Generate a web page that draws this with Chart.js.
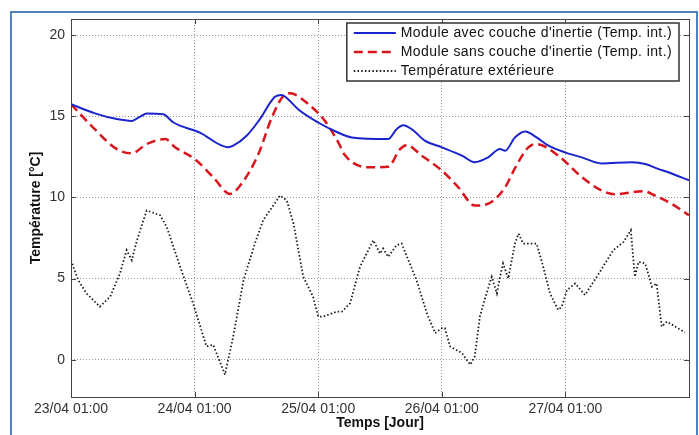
<!DOCTYPE html>
<html>
<head>
<meta charset="utf-8">
<script src="https://cdn.jsdelivr.net/npm/chart.js@4"></script>
<style>
  body { margin: 0; background: #fff; }
</style>
</head>
<body>
<canvas id="tempChart" width="699" height="435"></canvas>
<script>
// tick labels for the time axis (one per day, hours since 23/04 01:00)
const dayLabels = ["23/04 01:00", "24/04 01:00", "25/04 01:00", "26/04 01:00", "27/04 01:00"];
const tempTicks = [0, 5, 10, 15, 20];

// Module avec couche d'inertie
const withHours = [0, 4.5, 8.9, 11.8, 13.5, 14.7, 17.9, 19.9, 25, 30.5, 31.5, 34.1, 36.5, 39.6, 40.9, 42, 44.1, 48, 51.5, 54.5, 61.6, 63.2, 64.5, 66.2, 68.7, 72, 75.9, 78.4, 81, 83.3, 84.3, 86.2, 88.2, 90.4, 92.7, 95.9, 99.2, 103, 108.9, 111.5, 114, 116, 120];
const withTemps = [15.75, 15.2, 14.83, 14.72, 15.0, 15.17, 15.13, 14.62, 14.0, 13.1, 13.19, 13.8, 14.75, 16.2, 16.32, 16.1, 15.44, 14.62, 14.05, 13.7, 13.6, 14.2, 14.45, 14.2, 13.5, 13.09, 12.58, 12.17, 12.47, 12.98, 12.88, 13.7, 14.07, 13.7, 13.19, 12.78, 12.47, 12.1, 12.17, 12.06, 11.76, 11.55, 11.05];

// Module sans couche d'inertie
const withoutHours = [0, 4.3, 8.9, 11.8, 14.7, 18.3, 20.2, 24.1, 27.6, 30.9, 33.1, 36.4, 39, 41.6, 42.5, 46.1, 49.3, 51.9, 53.2, 57.7, 61.6, 63.9, 65.2, 68.1, 72, 75.2, 78.4, 81, 84.3, 86.2, 88.8, 90.4, 94.6, 99.2, 103, 105.6, 111.1, 113.4, 116.6, 120];
const withoutTemps = [15.75, 14.31, 12.98, 12.72, 13.29, 13.6, 13.1, 12.35, 11.25, 10.22, 10.84, 12.68, 14.93, 16.36, 16.42, 15.75, 14.72, 13.4, 12.6, 11.86, 11.9, 12.98, 13.22, 12.58, 11.66, 10.63, 9.5, 9.61, 10.63, 11.8, 13.09, 13.29, 12.58, 11.25, 10.43, 10.2, 10.39, 10.12, 9.61, 8.9];

// Temperature exterieure
const outHours = [0, 1.4, 3, 5.6, 7.6, 9.5, 10.8, 11.8, 12.8, 14.7, 17.3, 18.6, 21.2, 23.7, 26.3, 27.6, 29.9, 31.5, 33.5, 35.7, 37.3, 40.6, 41.9, 43.2, 45.1, 47, 48, 49, 51.6, 52.6, 54.2, 56.1, 58.7, 60, 60.6, 61.6, 63.2, 64.2, 67.1, 69.1, 70.7, 72, 72.6, 73.6, 75.9, 77.5, 78.4, 79.4, 80.4, 81.7, 82.7, 83.3, 83.9, 84.9, 86.2, 86.9, 87.8, 90.4, 91.7, 93, 94.6, 95.3, 96.3, 97.9, 99.8, 102.1, 105.3, 107.3, 108.7, 109.5, 110.2, 111.5, 112.8, 113.7, 114.7, 115.7, 119.2];
const outTemps = [6.13, 4.9, 4.09, 3.27, 3.88, 5.32, 6.75, 6.13, 7.36, 9.2, 8.9, 8.18, 5.72, 3.48, 0.82, 0.92, -0.92, 1.43, 4.9, 7.16, 8.59, 10.12, 9.82, 8.39, 5.11, 3.88, 2.66, 2.66, 2.96, 2.96, 3.48, 5.72, 7.36, 6.54, 6.85, 6.34, 7.06, 7.16, 4.9, 2.86, 1.64, 1.94, 1.94, 0.82, 0.41, -0.31, 0.2, 2.66, 3.78, 5.11, 4.09, 5.11, 5.93, 5.01, 7.16, 7.77, 7.16, 7.16, 5.72, 4.09, 3.07, 3.27, 4.29, 4.7, 3.99, 5.11, 6.75, 7.26, 7.98, 5.11, 6.03, 5.93, 4.5, 4.7, 2.04, 2.35, 1.68];

function toPoints(hours, temps) {
  return hours.map((h, i) => ({ x: h, y: temps[i] }));
}

// white page + blue outer frame
const framePlugin = {
  id: "frame",
  beforeDraw(chart) {
    const ctx = chart.ctx;
    ctx.save();
    ctx.fillStyle = "#fff";
    ctx.fillRect(0, 0, chart.width, chart.height);
    ctx.strokeStyle = "#4f81bd";
    ctx.lineWidth = 2;
    ctx.strokeRect(11, 12, 686, 440);
    ctx.restore();
  },
  afterDatasetsDraw(chart) {
    const ctx = chart.ctx;
    const a = chart.chartArea;
    const xs = chart.scales.x, ys = chart.scales.y;
    ctx.save();
    ctx.strokeStyle = "#444";
    ctx.lineWidth = 1;
    ctx.strokeRect(a.left + 0.5, a.top + 0.5, a.right - a.left, a.bottom - a.top);
    // matlab style inward ticks
    ctx.beginPath();
    xs.ticks.forEach(t => {
      const px = Math.round(xs.getPixelForValue(t.value)) + 0.5;
      ctx.moveTo(px, a.bottom); ctx.lineTo(px, a.bottom - 5);
      ctx.moveTo(px, a.top); ctx.lineTo(px, a.top + 5);
    });
    ys.ticks.forEach(t => {
      const py = Math.round(ys.getPixelForValue(t.value)) + 0.5;
      ctx.moveTo(a.left, py); ctx.lineTo(a.left + 5, py);
      ctx.moveTo(a.right, py); ctx.lineTo(a.right - 5, py);
    });
    ctx.stroke();

    // legend box
    ctx.font = "14px 'Liberation Sans', Arial, sans-serif";
    ctx.letterSpacing = "0.4px";
    ctx.textBaseline = "middle";
    const sets = chart.data.datasets;
    const textW = Math.max(...sets.map(d => ctx.measureText(d.label).width));
    const sample = 42, gap = 5, pad = 7, rowH = 19;
    const boxW = pad + sample + gap + textW + pad;
    const boxH = rowH * sets.length + 1;
    const bx = a.right - 10 - boxW, by = a.top + 4;
    ctx.fillStyle = "#fff";
    ctx.fillRect(bx, by, boxW, boxH);
    ctx.lineWidth = 1.5;
    ctx.strokeStyle = "#333";
    ctx.strokeRect(bx, by, boxW, boxH);
    sets.forEach((d, i) => {
      const cy = by + 10 + i * rowH;
      ctx.save();
      ctx.strokeStyle = d.borderColor;
      ctx.lineWidth = d.borderWidth;
      ctx.setLineDash(d.borderDash || []);
      ctx.beginPath();
      ctx.moveTo(bx + pad, cy);
      ctx.lineTo(bx + pad + sample, cy);
      ctx.stroke();
      ctx.restore();
      ctx.fillStyle = "#111";
      ctx.fillText(d.label, bx + pad + sample + gap, cy);
    });
    ctx.restore();
  }
};

const ctx = document.getElementById("tempChart").getContext("2d");
const tempChart = new Chart(ctx, {
  type: "line",
  data: {
    datasets: [
      {
        label: "Module avec couche d'inertie (Temp. int.)",
        data: toPoints(withHours, withTemps),
        borderColor: "#1a24cc",
        borderWidth: 2,
        pointRadius: 0,
        cubicInterpolationMode: "monotone",
        fill: false,
      },
      {
        label: "Module sans couche d'inertie (Temp. int.)",
        data: toPoints(withoutHours, withoutTemps),
        borderColor: "#d8141c",
        borderWidth: 2.5,
        borderDash: [9, 5],
        pointRadius: 0,
        cubicInterpolationMode: "monotone",
        fill: false,
      },
      {
        label: "Température extérieure",
        data: toPoints(outHours, outTemps),
        borderColor: "#1a1a1a",
        borderWidth: 1.8,
        borderDash: [1.5, 2.2],
        pointRadius: 0,
        tension: 0,
        fill: false,
      },
    ],
  },
  options: {
    responsive: false,
    animation: false,
    devicePixelRatio: 1,
    layout: { padding: { left: 28, top: 19, right: 10, bottom: 0 } },
    plugins: {
      legend: { display: false },
      tooltip: { enabled: false },
    },
    scales: {
      x: {
        type: "linear",
        min: 0,
        max: 120,
        afterBuildTicks: (s) => { s.ticks = dayLabels.map((_, i) => ({ value: i * 24 })); },
        afterFit: (s) => { s.height = 38; },
        ticks: {
          color: "#333",
          padding: 4,
          maxRotation: 0,
          font: { family: "'Liberation Sans', Arial, sans-serif", size: 14 },
          callback: (v) => dayLabels[Math.round(v / 24)],
        },
        grid: { color: "#999", drawTicks: false },
        border: { display: false, dash: [1, 2] },
        title: {
          display: true,
          text: "Temps [Jour]",
          color: "#111",
          padding: { top: 0, bottom: 3 },
          font: { family: "'Liberation Sans', Arial, sans-serif", size: 14, weight: "bold" },
        },
      },
      y: {
        min: -2.3,
        max: 21,
        afterBuildTicks: (s) => { s.ticks = tempTicks.map(v => ({ value: v })); },
        afterFit: (s) => { s.width = 43; },
        ticks: {
          color: "#333",
          padding: 6,
          font: { family: "'Liberation Sans', Arial, sans-serif", size: 14 },
        },
        grid: { color: "#999", drawTicks: false },
        border: { display: false, dash: [1, 2] },
        title: {
          display: true,
          text: "Température [°C]",
          color: "#111",
          padding: { top: 0, bottom: 0 },
          font: { family: "'Liberation Sans', Arial, sans-serif", size: 14, weight: "bold" },
        },
      },
    },
  },
  plugins: [framePlugin],
});
</script>
</body>
</html>
